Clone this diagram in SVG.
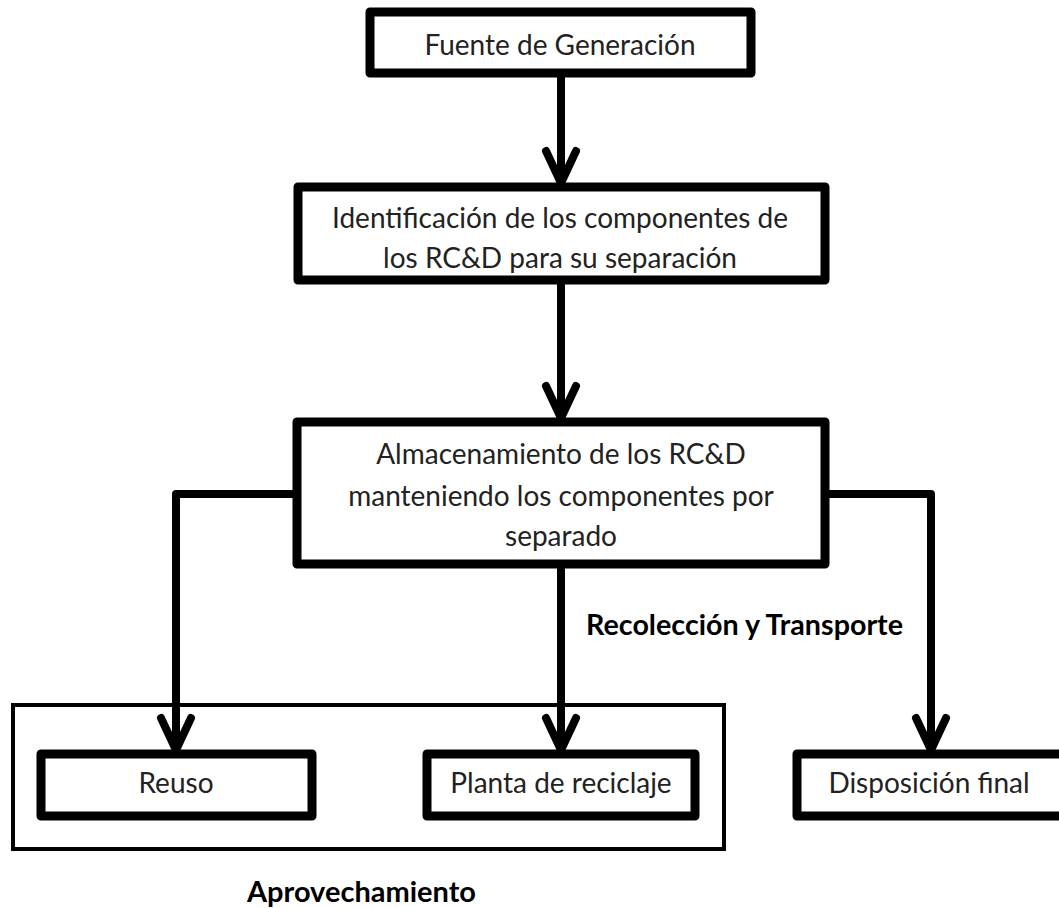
<svg xmlns="http://www.w3.org/2000/svg" width="1059" height="908" viewBox="0 0 1059 908">
<defs>
<style>
.box{fill:#fff;stroke:#000;stroke-width:9;stroke-linejoin:round}
.frame{fill:none;stroke:#000;stroke-width:4}
.lbl{font-family:Lato,"Open Sans","Liberation Sans",sans-serif;font-size:28px;fill:#222;text-anchor:middle}
.bold{font-family:Lato,"Open Sans","Liberation Sans",sans-serif;font-size:28px;font-weight:bold;fill:#000}
.con{fill:none;stroke:#000;stroke-width:8;stroke-linejoin:round}
</style>
<marker id="arrow" markerUnits="userSpaceOnUse" viewBox="-40 -22 48 44" refX="0" refY="0" markerWidth="48" markerHeight="44" orient="auto">
<path d="M -32 -15 L 0 0 L -32 15" fill="none" stroke="#000" stroke-width="8" stroke-linejoin="round" stroke-linecap="round"/>
</marker>
</defs>
<rect width="1059" height="908" fill="#fff"/>
<g id="frame-aprovechamiento">
<rect class="frame" x="13" y="705" width="711" height="144"/>
<text class="bold" x="247" y="902" textLength="229" lengthAdjust="spacingAndGlyphs">Aprovechamiento</text>
</g>
<g id="connectors">
<line class="con" x1="561" y1="73" x2="561" y2="183" marker-end="url(#arrow)"/>
<line class="con" x1="561" y1="280" x2="561" y2="418" marker-end="url(#arrow)"/>
<polyline class="con" points="297,494 176,494 176,750" marker-end="url(#arrow)"/>
<line class="con" x1="561" y1="564" x2="561" y2="750" marker-end="url(#arrow)"/>
<polyline class="con" points="825,494 931,494 931,750" marker-end="url(#arrow)"/>
<text class="bold" x="586" y="635" textLength="317" lengthAdjust="spacingAndGlyphs">Recolección y Transporte</text>
</g>
<g id="fuente">
<rect class="box" x="370" y="12" width="381" height="61"/>
<text class="lbl" x="560" y="55">Fuente de Generación</text>
</g>
<g id="identificacion">
<rect class="box" x="298" y="187" width="527" height="93"/>
<text class="lbl" x="560" y="228">Identificación de los componentes  de</text>
<text class="lbl" x="560" y="268">los RC&amp;D para su separación</text>
</g>
<g id="almacenamiento">
<rect class="box" x="297" y="422" width="528" height="142"/>
<text class="lbl" x="561" y="464">Almacenamiento de los RC&amp;D</text>
<text class="lbl" x="561" y="506">manteniendo los componentes por</text>
<text class="lbl" x="561" y="546">separado</text>
</g>
<g id="reuso">
<rect class="box" x="41" y="754" width="271" height="62"/>
<text class="lbl" x="176" y="793">Reuso</text>
</g>
<g id="planta">
<rect class="box" x="427" y="754" width="268" height="62"/>
<text class="lbl" x="561" y="793">Planta de reciclaje</text>
</g>
<g id="disposicion">
<rect class="box" x="797" y="754" width="270" height="62"/>
<text class="lbl" x="929" y="793">Disposición final</text>
</g>
</svg>
